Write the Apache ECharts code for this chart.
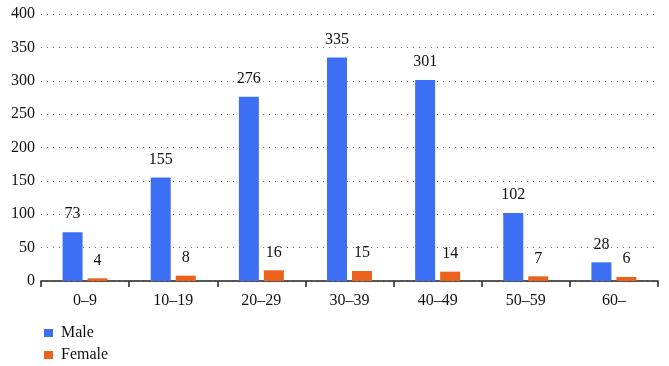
<!DOCTYPE html>
<html><head><meta charset="utf-8">
<script src="https://cdn.jsdelivr.net/npm/echarts@6/dist/echarts.min.js"></script>
<style>html,body{margin:0;padding:0;background:#fff}#c{width:669px;height:366px}</style>
</head><body><div id="c"></div>
<script>
const categories = ['0–9','10–19','20–29','30–39','40–49','50–59','60–'];
const maleValues = [73,155,276,335,301,102,28];
const femaleValues = [4,8,16,15,14,7,6];
const seriesNames = ['Male','Female'];
const yTicks = {min:0, max:400, interval:50};
const font = 'Liberation Serif';
const legendBase = {orient:'vertical',left:39,itemWidth:9,itemHeight:8,icon:'rect',
  textStyle:{fontFamily:font,fontSize:16,color:'#111',padding:[0,0,0,3]}};
const chart = echarts.init(document.getElementById('c'));
chart.setOption({
  animation:false,
  textStyle:{fontFamily:font},
  grid:{left:41,right:11,top:14,bottom:85,containLabel:false},
  legend:[
    Object.assign({},legendBase,{top:320,data:[seriesNames[0]]}),
    Object.assign({},legendBase,{top:342,data:[seriesNames[1]]})
  ],
  xAxis:{type:'category',data:categories,
    axisLine:{lineStyle:{color:'#222',width:1.5}},
    axisTick:{show:true,length:6,lineStyle:{color:'#222',width:1.5}},
    axisLabel:{fontFamily:font,fontSize:16,color:'#111',margin:12}},
  yAxis:{type:'value',min:yTicks.min,max:yTicks.max,interval:yTicks.interval,
    axisLine:{show:false},axisTick:{show:false},
    splitLine:{lineStyle:{type:[1,5],color:'#777',width:1}},
    axisLabel:{fontFamily:font,fontSize:16,color:'#111',margin:6}},
  series:[
    {name:seriesNames[0],type:'bar',data:maleValues,barWidth:20,barGap:'25%',
      itemStyle:{color:'#3d6ff5'},
      label:{show:true,position:'top',distance:10,fontFamily:font,fontSize:16,color:'#111'}},
    {name:seriesNames[1],type:'bar',data:femaleValues,barWidth:20,
      itemStyle:{color:'#ec611b'},
      label:{show:true,position:'top',distance:10,fontFamily:font,fontSize:16,color:'#111'}}
  ]
});
</script></body></html>
